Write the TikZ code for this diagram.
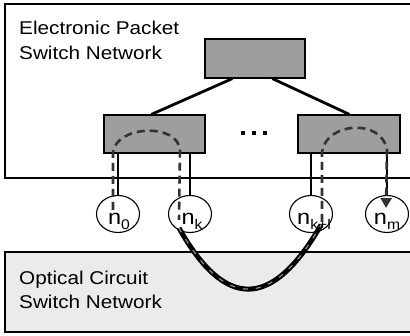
\documentclass[tikz,border=0pt]{standalone}
\usepackage{fontspec}
\setmainfont{Liberation Sans}
\usetikzlibrary{shapes.geometric,arrows.meta,calc}
\newcommand{\sxt}[1]{\scalebox{1.12}[1]{#1}}
\newcommand{\nsub}[1]{\raisebox{-5pt}{\fontsize{14}{14}\selectfont #1}}
\begin{document}
\begin{tikzpicture}[x=1pt,y=-1pt,
  lbl/.style={font=\fontsize{18.5}{22}\selectfont, inner sep=0, anchor=base west},
  area/.style={draw=black, line width=1.2pt},
  swbox/.style={rectangle, draw=black, line width=1.2pt, fill=black!38, inner sep=0},
  nd/.style={ellipse, draw=black, line width=1.1pt, fill=white, minimum width=43, minimum height=37, inner sep=0},
  nlab/.style={font=\fontsize{21}{24}\selectfont, inner sep=0, anchor=base},
  conn/.style={draw=black, line width=2.8pt},
  vline/.style={draw=black, line width=1.4pt},
  flow/.style={draw=black!80, line width=2.6pt, dash pattern=on 8pt off 5pt},
  ubend/.style={draw=black, line width=5pt},
  dotsq/.style={fill=black, minimum size=3.4, inner sep=0, rectangle}
]
\useasboundingbox (0,0) rectangle (410,336);
\clip (0,0) rectangle (410,336);
\fill[white] (0,0) rectangle (410,336);

% areas
\draw[area, fill=black!8] (5,252) rectangle (416,332);
\draw[area] (5,4) rectangle (416,178);

\node[lbl] (e1) at (19,35) {\sxt{Electronic Packet}};
\node[lbl] (e2) at (19,60) {\sxt{Switch Network}};
\node[lbl] (o1) at (19,285) {\sxt{Optical Circuit}};
\node[lbl] (o2) at (19,309) {\sxt{Switch Network}};

% switches
\node[swbox, minimum width=100, minimum height=39] (top) at (255,58.5) {};
\node[swbox, minimum width=101, minimum height=38] (sw1) at (154.5,134) {};
\node[swbox, minimum width=102, minimum height=38] (sw2) at (349,134) {};

\node[dotsq] (d1) at (243,133) {};
\node[dotsq] (d2) at (254,133) {};
\node[dotsq] (d3) at (265,133) {};

\draw[conn] ($(top.south west)+(28,0)$) -- ($(sw1.north west)+(48,0)$);
\draw[conn] ($(top.south west)+(68,0)$) -- ($(sw2.north west)+(52,0)$);

% end nodes
\node[nd] (n0) at (118,214) {};
\node[nd] (nk) at (190,214) {};
\node[nd] (nkl) at (311,214) {};
\node[nd] (nm) at (387,214) {};

\draw[vline] (sw1.south -| n0.north) -- (n0.north);
\draw[vline] (sw1.south -| nk.north) -- (nk.north);
\draw[vline] (sw2.south -| nkl.north) -- (nkl.north);
\draw[vline] (sw2.south -| nm.north) -- (nm.north);

\node[nlab] (l0) at ($(n0.center)+(1,11)$) {\sxt{n\nsub{0}}};
\node[nlab] (lk) at ($(nk.center)+(2,11)$) {\sxt{n\nsub{k}}};
\node[nlab] (lkl) at ($(nkl.center)+(3,11)$) {\sxt{n\nsub{k+l}}};
\node[nlab] (lm) at ($(nm.center)+(0,11)$) {\sxt{n\nsub{m}}};

% flow path
\coordinate (a0) at (113,210);
\coordinate (a1) at (113,152);
\coordinate (a2) at (180,150);
\coordinate (a3) at (179,220);
\coordinate (b0) at (179,228);
\coordinate (b1) at (321,225);
\coordinate (c0) at (322,222);
\coordinate (c1) at (322,152);
\coordinate (c2) at (387,150);
\coordinate (c3) at (386,208);

\draw[flow] (a0) -- (a1) .. controls (117,125) and (178,123) .. (a2) -- (a3);
\draw[ubend, postaction={draw=black!45, line width=1.2pt, dash pattern=on 5pt off 8pt}]
  (b0) .. controls (225,310) and (272,310) .. (b1);
\draw[flow, -{Triangle[length=10pt,width=11pt]}] (c0) -- (c1) .. controls (326,122) and (382,118) .. (c2) -- (c3);
\end{tikzpicture}
\end{document}
